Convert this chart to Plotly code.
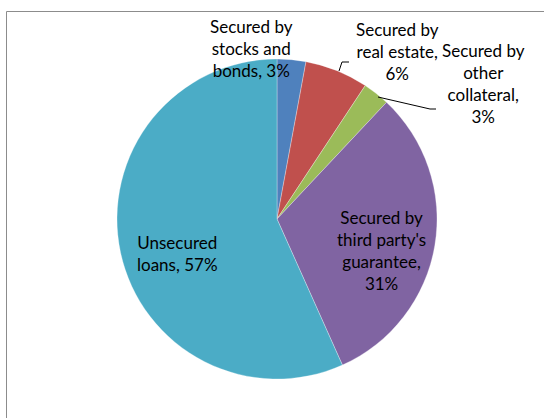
import plotly.graph_objects as go

# Loan portfolio by type of security (share of total, %)
categories = [
    "Secured by stocks and bonds",
    "Secured by real estate",
    "Secured by other collateral",
    "Secured by third party's guarantee",
    "Unsecured loans",
]
shares = [2.9, 6.4, 2.7, 31.3, 56.7]
colors = ["#4F81BD", "#C0504D", "#9BBB59", "#8064A2", "#4BACC6"]

# Multi-line label text, Excel style: "<category>, <pct>%"
label_lines = [
    ["Secured by", "stocks and", "bonds, {p}%"],
    ["Secured by", "real estate,", "{p}%"],
    ["Secured by", "other", "collateral,", "{p}%"],
    ["Secured by", "third party's", "guarantee,", "{p}%"],
    ["Unsecured", "loans, {p}%"],
]

W, H = 544, 418


def px(x):
    return x / W


def py(y):
    return 1 - y / H


total = sum(shares)
pcts = [round(v / total * 100) for v in shares]

fig = go.Figure(
    go.Pie(
        labels=categories,
        values=shares,
        marker=dict(colors=colors, line=dict(color="rgba(255,255,255,0.6)", width=0.5)),
        sort=False,
        direction="clockwise",
        rotation=0,
        textinfo="none",
        hoverinfo="label+percent",
        showlegend=False,
        domain=dict(x=[px(117), px(437)], y=[py(379), py(59)]),
    )
)

# Label anchor points (centre of each text block, pixels)
label_pos = [(251, 48), (397, 52), (483, 83.5), (381, 250.5), (177, 253.5)]

annotations = []
for lines, pct, (lx, ly) in zip(label_lines, pcts, label_pos):
    text = "<br>".join(l.format(p=pct) for l in lines)
    annotations.append(
        dict(
            x=px(lx), y=py(ly), xref="paper", yref="paper",
            text=text, showarrow=False, align="center",
            xanchor="center", yanchor="middle",
            font=dict(family="Lato", size=17, color="#000000"),
        )
    )

# Leader lines for the two small slices on the right
leaders = [
    [(339, 71), (342, 62), (349, 62)],
    [(378, 97), (430, 109), (436, 109)],
]
shapes = []
for pts in leaders:
    path = "M " + " L ".join(f"{px(x)},{py(y)}" for x, y in pts)
    shapes.append(dict(type="path", xref="paper", yref="paper", path=path,
                       line=dict(color="#000000", width=1)))

# Chart-area border
shapes.append(dict(type="rect", xref="paper", yref="paper",
                   x0=px(6.5), y0=py(430), x1=px(560), y1=py(11.5),
                   line=dict(color="#8C8C8C", width=1)))

fig.update_layout(
    width=W, height=H,
    margin=dict(l=0, r=0, t=0, b=0),
    paper_bgcolor="#FFFFFF",
    plot_bgcolor="#FFFFFF",
    annotations=annotations,
    shapes=shapes,
)

fig.write_html("out.html")
